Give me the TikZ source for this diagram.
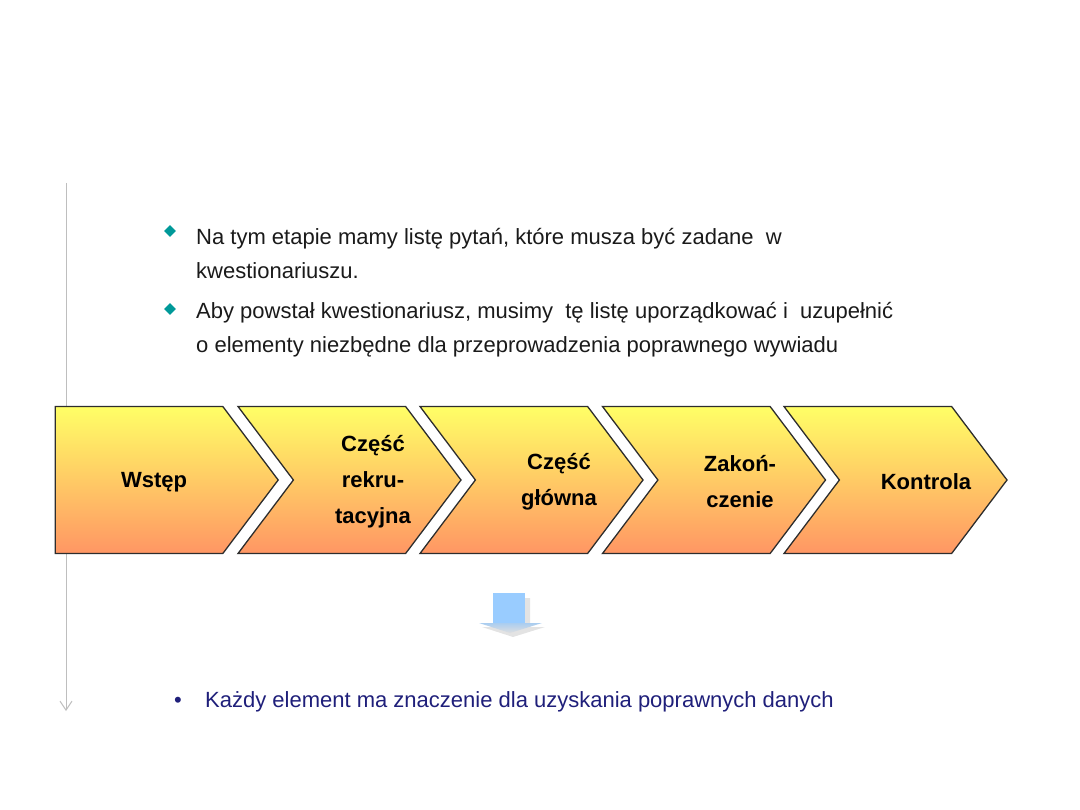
\documentclass[tikz,border=0pt]{standalone}
\usepackage{fontspec}
\setmainfont{Liberation Sans}
\usetikzlibrary{shapes.geometric, shapes.symbols, positioning, arrows.meta, calc}
\definecolor{chevtop}{RGB}{255,255,102}
\definecolor{chevbot}{RGB}{255,150,100}
\definecolor{chevline}{RGB}{45,45,45}
\definecolor{bulletteal}{RGB}{0,153,153}
\definecolor{bodytext}{RGB}{26,26,26}
\definecolor{navytext}{RGB}{31,31,122}
\definecolor{axisgray}{RGB}{190,190,190}
\definecolor{arrowblue}{RGB}{153,204,255}
\definecolor{arrowhead}{RGB}{170,205,240}
\tikzset{
  chevron/.style={signal, signal to=east, signal from=west, signal pointer angle=106, minimum height=147pt, minimum width=223pt, inner sep=0pt, draw=chevline, line width=1.3pt, top color=chevtop, bottom color=chevbot},
  firstchevron/.style={chevron, signal from=nowhere},
  chevtext/.style={font=\fontsize{22}{36}\selectfont\bfseries, align=center, text=black},
  bullettext/.style={font=\fontsize{22}{34}\selectfont, align=left, text=bodytext, anchor=base west, inner sep=0pt},
  tealdiamond/.style={diamond, fill=bulletteal, minimum size=12pt, inner sep=0pt}
}
\begin{document}
\begin{tikzpicture}[x=1pt, y=-1pt]
    \useasboundingbox (0,0) rectangle (1080,810);

    % linia osi
    \coordinate (axistop) at (66,183);
    \coordinate (axisend) at (66,711);
    \draw [axisgray, line width=1pt, -{Straight Barb[length=9pt, width=12pt]}] (axistop) -- (axisend);

    % punkty
    \node (dot1) [tealdiamond] at (170,231) {};
    \node (item1) [bullettext] at (196,279)
    {Na tym etapie mamy listę pytań, które musza być zadane\ \ w\\kwestionariuszu.};
    \node (dot2) [tealdiamond] at (170,309) {};
    \node (item2) [bullettext] at (196,353)
    {Aby powstał kwestionariusz, musimy\ \ tę listę uporządkować i\ \ uzupełnić\\o elementy niezbędne dla przeprowadzenia poprawnego wywiadu};

    % etapy
    \node (wstep) [firstchevron] at (139,480) {};
    \node (rekr) [chevron] at (349.5,480) {};
    \node (glowna) [chevron] at (531.5,480) {};
    \node (zakon) [chevron] at (714,480) {};
    \node (kontrola) [chevron] at (895.5,480) {};

    \node (wstep-t) [chevtext] at (154,482) {Wstęp};
    \node (rekr-t) [chevtext] at (373,482) {Część\\rekru-\\tacyjna};
    \node (glowna-t) [chevtext] at (559,482) {Część\\główna};
    \node (zakon-t) [chevtext] at (740,482) {Zakoń-\\czenie};
    \node (kontrola-t) [chevtext] at (926,482) {Kontrola};

    % strzalka w dol
    \fill [gray!22] (498,598) -- (530,598) -- (530,627) -- (545,627) -- (513,637) -- (482,627) -- (498,627) -- cycle;
    \fill [arrowblue] (493,593) -- (525,593) -- (525,623) -- (493,623) -- cycle;
    \shade [top color=arrowhead, bottom color=gray!25] (479,623) -- (542,623) -- (510,633) -- cycle;

    % wniosek
    \node (dot3) [text=navytext, font=\fontsize{22}{26}\selectfont, anchor=base] at (178,707) {•};
    \node (summary) [bullettext, text=navytext] at (205,707)
    {Każdy element ma znaczenie dla uzyskania poprawnych danych};

\end{tikzpicture}
\end{document}
